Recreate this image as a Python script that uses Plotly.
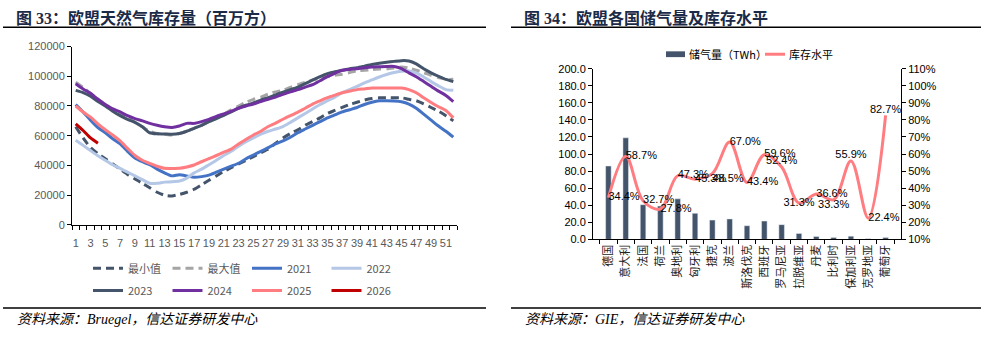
import plotly.graph_objects as go

# ---------------- data: EU gas storage by week (million m3) ----------------
weeks = list(range(1, 53))
week_ticks = list(range(1, 52, 2))

stock_min = [66000, 58500, 52000, 48000, 44500, 41000, 37500, 34000, 31000, 28000,
             25000, 22000, 20000, 19500, 20500, 22000, 24000, 27000, 30000, 33000,
             36000, 38500, 41000, 43500, 46000, 48500, 51000, 55000, 58500, 61500,
             64000, 67000, 69500, 72000, 75000, 77000, 79000, 81000, 82500, 84000,
             85000, 85500, 85500, 85500, 85500, 84500, 83500, 81500, 79000, 76500,
             73500, 70000]
stock_max = [96000, 92500, 88500, 84500, 81000, 78000, 75000, 72000, 69000, 66000,
             63000, 61500, 61000, 60500, 61500, 63000, 65000, 67000, 69500, 72000,
             74500, 77500, 80000, 82500, 84500, 86000, 88000, 89500, 90500, 92500,
             94300, 96000, 97500, 98800, 99700, 100700, 101400, 102500, 103600, 104000,
             104500, 104800, 105100, 105600, 106200, 105500, 104000, 102500, 100700, 99200,
             97900, 97900]
stock_2021 = [81000, 76000, 70500, 65500, 62000, 58000, 54500, 49500, 45000, 42500,
              40500, 37500, 35000, 33000, 33800, 33000, 32000, 32500, 33500, 35500,
              37500, 39500, 41500, 44500, 47000, 49500, 52000, 54500, 56500, 59000,
              62000, 64500, 67000, 69500, 72000, 74000, 76000, 77500, 79000, 81000,
              82500, 83500, 83500, 83300, 82800, 81300, 78500, 74500, 70500, 66500,
              63000, 59000]
stock_2022 = [57000, 53500, 50000, 46500, 43500, 40500, 38000, 35500, 33000, 30500,
              28000, 28000, 28800, 29000, 29500, 31500, 35000, 37500, 40500, 43500,
              46700, 49500, 53000, 56000, 58600, 61000, 63000, 64500, 66200, 69000,
              72000, 75000, 78000, 81000, 83500, 86000, 89000, 91000, 93200, 95500,
              97500, 99500, 101200, 102500, 103300, 103600, 102300, 99500, 96400, 93500,
              91000, 90600]
stock_2023 = [90500, 89000, 86500, 83000, 80000, 76500, 73500, 71000, 69000, 66000,
              62000, 61300, 61200, 61000, 61500, 63000, 65000, 67000, 69400, 71500,
              73700, 76000, 78500, 80500, 82000, 84000, 85600, 87500, 89300, 91000,
              92700, 95000, 97500, 99800, 101800, 103000, 104000, 105000, 105700, 106800,
              107900, 108700, 109400, 110000, 110500, 110300, 108300, 105000, 102300, 100000,
              97900, 96400]
stock_2024 = [95000, 91500, 88500, 84500, 81000, 78000, 76000, 73500, 71500, 70000,
              68300, 67000, 66000, 65500, 66500, 68300, 68300, 69500, 71000, 73000,
              74700, 76500, 78500, 80000, 81300, 83000, 84500, 86000, 87800, 89500,
              91000, 92700, 94300, 97000, 99700, 102000, 104000, 104600, 105100, 105700,
              106200, 106400, 106600, 106600, 105100, 102300, 99700, 96500, 93200, 90000,
              87100, 83000]
stock_2025 = [80000, 76000, 72500, 68000, 64000, 60500, 56500, 51500, 46700, 43500,
              41400, 39500, 38100, 38000, 38100, 39000, 40300, 42500, 44600, 46700,
              48900, 51000, 54500, 57500, 60500, 63000, 66200, 68500, 71100, 73500,
              75900, 78500, 81300, 83500, 85600, 87300, 88900, 90000, 91000, 91500,
              92100, 92100, 92100, 92100, 92100, 91000, 88900, 85500, 82400, 79500,
              77000, 72000]
stock_2026 = [68000, 63500, 58500, 55000]

# ---------------- data: storage by country ----------------
countries = ["德国", "意大利", "法国", "荷兰", "奥地利", "匈牙利", "捷克", "波兰",
             "斯洛伐克", "西班牙", "罗马尼亚", "拉脱维亚", "丹麦", "比利时",
             "保加利亚", "克罗地亚", "葡萄牙"]
storage_twh = [86.0, 119.0, 40.7, 39.0, 47.5, 30.5, 22.6, 24.0, 16.0, 21.5,
               17.3, 7.0, 3.4, 2.3, 3.8, 0.8, 2.3]
fill_level = [34.4, 58.7, 32.7, 27.8, 47.3, 45.3, 48.5, 67.0, 43.4, 59.6,
              52.4, 31.3, 36.6, 33.3, 55.9, 22.4, 82.7]

# where each fill-level label sits relative to its point
label_pos = ["middle right", "middle right", "middle right", "middle right",
             "middle right", "middle right", "bottom right", "middle right",
             "middle right", "middle right", "top center", "middle center",
             "middle right", "bottom center", "top center", "middle right",
             "top center"]

# ---------------- page geometry helpers ----------------
W, H = 992, 338


def px(x):
    return x / W


def py(y):
    return 1 - y / H


SANS = "Liberation Sans, Arial, Noto Sans CJK SC, sans-serif"
CJK = "Noto Sans CJK SC, Liberation Sans, sans-serif"
TITLE_FONT = "Liberation Serif, Noto Sans CJK SC, serif"
GREY = "#595959"

fig = go.Figure()

# ---------------- left chart: weekly storage lines ----------------
line_specs = [
    ("最小值", weeks, stock_min, "#44546A", "8px,5px", "legend"),
    ("最大值", weeks, stock_max, "#A5A5A5", "8px,5px", "legend"),
    ("2021", weeks, stock_2021, "#4472C4", "solid", "legend"),
    ("2022", weeks, stock_2022, "#B4C7E7", "solid", "legend"),
    ("2023", weeks, stock_2023, "#44546A", "solid", "legend3"),
    ("2024", weeks, stock_2024, "#7030A0", "solid", "legend3"),
    ("2025", weeks, stock_2025, "#FF7C80", "solid", "legend3"),
    ("2026", weeks[:len(stock_2026)], stock_2026, "#C00000", "solid", "legend3"),
]
for name, xs, ys, color, dash, leg in line_specs:
    fig.add_trace(go.Scatter(
        x=xs, y=ys, name=name, mode="lines",
        line=dict(color=color, width=3, dash=dash, shape="spline", smoothing=0.6),
        xaxis="x", yaxis="y", legend=leg,
    ))

# ---------------- right chart: bars + fill level ----------------
fig.add_trace(go.Bar(
    x=countries, y=storage_twh, name="储气量（TWh）",
    marker=dict(color="#44546A"), width=0.32,
    xaxis="x2", yaxis="y2", showlegend=False,
))
fig.add_trace(go.Scatter(
    x=countries, y=fill_level, name="库存水平", mode="lines+text",
    line=dict(color="#FF7C80", width=3, shape="spline", smoothing=1.0),
    texttemplate="%{y:.1f}%", textposition=label_pos,
    textfont=dict(family=SANS, size=11, color="#000000"),
    xaxis="x2", yaxis="y3", showlegend=False, cliponaxis=False,
))

axis_common = dict(showgrid=False, zeroline=False, showline=True,
                   linecolor="#000000", linewidth=1, ticks="outside",
                   ticklen=4, tickcolor="#000000", tickwidth=1)

fig.update_layout(
    width=W, height=H,
    margin=dict(l=0, r=0, t=0, b=0),
    paper_bgcolor="#FFFFFF", plot_bgcolor="#FFFFFF",
    font=dict(family=SANS, size=11, color=GREY),
    bargap=0.6,
    xaxis=dict(
        domain=[px(72), px(457)], anchor="y",
        range=[0.5, 52.5], tickmode="array", tickvals=week_ticks,
        showgrid=False, zeroline=False, showline=True, linecolor="#000000",
        ticks="outside", ticklen=4, tickcolor="rgba(0,0,0,0)",
        ticklabelstandoff=4,
        minor=dict(tickmode="array", tickvals=[w - 0.5 for w in weeks + [53]],
                   ticks="outside", ticklen=4, tickcolor="#000000", showgrid=False),
        tickfont=dict(family=SANS, size=11, color=GREY),
    ),
    yaxis=dict(
        domain=[py(227), py(42)], anchor="x",
        range=[0, 120000], dtick=20000, tickformat="d",
        tickfont=dict(family=SANS, size=11, color=GREY),
        **axis_common,
    ),
    xaxis2=dict(
        domain=[px(593), px(901)], anchor="y2",
        type="category", tickson="boundaries", tickangle=-90,
        tickfont=dict(family=CJK, size=11, color="#222222"),
        **axis_common,
    ),
    yaxis2=dict(
        domain=[py(242), py(65)], anchor="x2",
        range=[0, 200], dtick=20, tickformat=".1f",
        tickfont=dict(family=SANS, size=11, color="#000000"),
        **axis_common,
    ),
    yaxis3=dict(
        overlaying="y2", anchor="x2", side="right",
        range=[10, 110], dtick=10, ticksuffix="%",
        tickfont=dict(family=SANS, size=11, color="#000000"),
        **axis_common,
    ),
    legend=dict(
        orientation="h", x=px(88), y=py(272), xanchor="left", yanchor="middle",
        entrywidth=34.5, entrywidthmode="pixels",
        font=dict(family=CJK, size=11, color=GREY), bgcolor="rgba(0,0,0,0)",
        itemclick=False,
    ),
    legend3=dict(
        orientation="h", x=px(88), y=py(295), xanchor="left", yanchor="middle",
        entrywidth=34.5, entrywidthmode="pixels",
        font=dict(family=CJK, size=11, color=GREY), bgcolor="rgba(0,0,0,0)",
        itemclick=False,
    ),
    showlegend=True,
)

# ---------------- titles, rules, sources, right-hand key ----------------
annotations = [
    dict(text="<b>图 33：欧盟天然气库存量（百万方）</b>", x=px(14), y=py(12),
         font=dict(family=TITLE_FONT, size=16, color="#1B2A47")),
    dict(text="<b>图 34：欧盟各国储气量及库存水平</b>", x=px(522), y=py(12),
         font=dict(family=TITLE_FONT, size=16, color="#1B2A47")),
    dict(text="资料来源：Bruegel，信达证券研发中心", x=px(15), y=py(325),
         font=dict(family=TITLE_FONT, size=14, color="#000000", style="italic")),
    dict(text="资料来源：GIE，信达证券研发中心", x=px(523), y=py(325),
         font=dict(family=TITLE_FONT, size=14, color="#000000", style="italic")),
    dict(text="储气量（TWh）", x=px(687), y=py(50),
         font=dict(family=CJK, size=11, color="#000000")),
    dict(text="库存水平", x=px(787), y=py(50),
         font=dict(family=CJK, size=11, color="#000000")),
]
for a in annotations:
    fig.add_annotation(xref="paper", yref="paper", xanchor="left", yanchor="middle",
                       showarrow=False, **a)

rules = [(3, 486, 22), (511, 981, 22), (3, 486, 313), (511, 981, 313)]
for x0, x1, y in rules:
    fig.add_shape(type="line", xref="paper", yref="paper",
                  x0=px(x0), x1=px(x1), y0=py(y), y1=py(y),
                  line=dict(color="#000000", width=1.5))

fig.add_shape(type="rect", xref="paper", yref="paper",
              x0=px(666), x1=px(685), y0=py(53), y1=py(47),
              fillcolor="#44546A", line=dict(width=0))
fig.add_shape(type="line", xref="paper", yref="paper",
              x0=px(765), x1=px(785), y0=py(50), y1=py(50),
              line=dict(color="#FF7C80", width=3))

fig.write_html("out.html")
